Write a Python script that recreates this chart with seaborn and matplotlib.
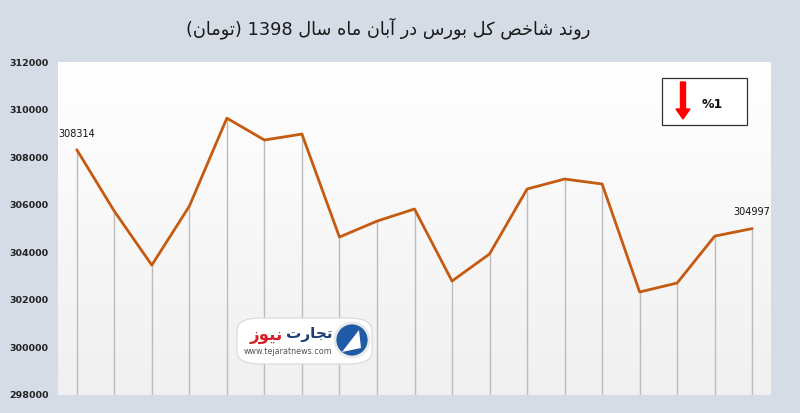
import numpy as np
import pandas as pd
import matplotlib
matplotlib.use("Agg")
import matplotlib.pyplot as plt
import matplotlib.patches as mpatches
import seaborn as sns

# data (19 trading days, Aban 1398)
days = list(range(1, 20))
index_values = [308314, 305730, 303460, 305940, 309640, 308720, 308970,
                304640, 305310, 305820, 302790, 303930, 306660, 307080,
                306870, 302330, 302710, 304680, 304997]
y_ticks = [298000, 300000, 302000, 304000, 306000, 308000, 310000, 312000]
title_text = "روند شاخص کل بورس در آبان ماه سال 1398 (تومان)"
change_text = "%1"

BG = "#d6dce5"
LINE = "#c55a11"

# matplotlib has no arabic shaping, so map letters to presentation forms
FORMS = {  # isolated, final, initial, medial
    'ا': ('\uFE8D', '\uFE8E', None, None),
    'آ': ('\uFE81', '\uFE82', None, None),
    'ب': ('\uFE8F', '\uFE90', '\uFE91', '\uFE92'),
    'ت': ('\uFE95', '\uFE96', '\uFE97', '\uFE98'),
    'ج': ('\uFE9D', '\uFE9E', '\uFE9F', '\uFEA0'),
    'خ': ('\uFEA5', '\uFEA6', '\uFEA7', '\uFEA8'),
    'د': ('\uFEA9', '\uFEAA', None, None),
    'ر': ('\uFEAD', '\uFEAE', None, None),
    'ز': ('\uFEAF', '\uFEB0', None, None),
    'س': ('\uFEB1', '\uFEB2', '\uFEB3', '\uFEB4'),
    'ش': ('\uFEB5', '\uFEB6', '\uFEB7', '\uFEB8'),
    'ص': ('\uFEB9', '\uFEBA', '\uFEBB', '\uFEBC'),
    'ک': ('\uFB8E', '\uFB8F', '\uFB90', '\uFB91'),
    'ل': ('\uFEDD', '\uFEDE', '\uFEDF', '\uFEE0'),
    'م': ('\uFEE1', '\uFEE2', '\uFEE3', '\uFEE4'),
    'ن': ('\uFEE5', '\uFEE6', '\uFEE7', '\uFEE8'),
    'ه': ('\uFEE9', '\uFEEA', '\uFEEB', '\uFEEC'),
    'و': ('\uFEED', '\uFEEE', None, None),
    'ی': ('\uFBFC', '\uFBFD', '\uFBFE', '\uFBFF'),
}


def shape_word(w):
    out = []
    for i, ch in enumerate(w):
        if ch not in FORMS:
            out.append(ch)
            continue
        prev = w[i - 1] if i > 0 else None
        nxt = w[i + 1] if i + 1 < len(w) else None
        iso, fin, ini, med = FORMS[ch]
        joins_prev = prev in FORMS and FORMS[prev][2] is not None
        joins_next = nxt in FORMS and ini is not None
        if joins_prev and joins_next:
            out.append(med)
        elif joins_prev:
            out.append(fin)
        elif joins_next:
            out.append(ini)
        else:
            out.append(iso)
    return ''.join(out)


def rtl(text):
    words = []
    for w in text.split(' '):
        if any(c in FORMS for c in w):
            s = shape_word(w)[::-1].translate(str.maketrans('()', ')('))
            words.append(s)
        else:
            words.append(w)
    return ' '.join(words[::-1])


sns.set_style("white")
plt.rcParams['font.family'] = ['DejaVu Sans']

df = pd.DataFrame({'day': days, 'value': index_values})

fig = plt.figure(figsize=(8, 4.13), dpi=100, facecolor=BG)
ax = fig.add_axes([58 / 800, 18 / 413, 713 / 800, 333 / 413])

ax.set_xlim(0.5, 19.5)
ax.set_ylim(298000, 312000)

# white at the top fading to light grey at the bottom
grad = np.linspace(0, 1, 256).reshape(-1, 1)
ax.imshow(grad, extent=(0.5, 19.5, 298000, 312000), aspect='auto',
          cmap=matplotlib.colors.LinearSegmentedColormap.from_list(
              'g', ['#f0f0f0', '#ffffff']), zorder=0, origin='lower')

# drop lines
ax.vlines(df['day'], 298000, df['value'], color='#bcbcbc', lw=1, zorder=1)
sns.lineplot(data=df, x='day', y='value', ax=ax, color=LINE, lw=2, zorder=3)

for i in (0, len(days) - 1):
    ax.annotate(str(index_values[i]), (days[i], index_values[i]),
                xytext=(0, 8), textcoords='offset points', ha='center',
                va='bottom', fontsize=7, color='#111111')

ax.set_yticks(y_ticks)
ax.set_yticklabels([str(t) for t in y_ticks], fontsize=6.8,
                   fontweight='bold', color='#222222')
ax.set_xticks([])
ax.tick_params(axis='y', length=0, pad=7)
ax.set_xlabel('')
ax.set_ylabel('')
for s in ax.spines.values():
    s.set_visible(False)

# title
fig.text(388 / 800, 1 - 28 / 413, rtl(title_text), ha='center', va='center',
         fontsize=12.8, color='#1a1a1a')

# change box
fig.patches.append(mpatches.Rectangle((662 / 800, 1 - 125 / 413), 85 / 800,
                                      47 / 413, transform=fig.transFigure,
                                      facecolor='white', edgecolor='#333333',
                                      lw=0.9))
fig.patches.append(mpatches.FancyArrow(683 / 800, 1 - 82 / 413, 0, -37 / 413,
                                       width=5 / 800, head_width=14 / 800,
                                       head_length=10 / 413,
                                       length_includes_head=True,
                                       transform=fig.transFigure,
                                       color='#ff0000'))
fig.text(712 / 800, 1 - 104 / 413, change_text, ha='center', va='center',
         fontsize=9, fontweight='bold', color='#111111')

# logo
fig.patches.append(mpatches.FancyBboxPatch((237 / 800, 1 - 364 / 413),
                                           135 / 800, 46 / 413,
                                           boxstyle='round,pad=0,rounding_size=0.03',
                                           transform=fig.transFigure,
                                           facecolor='white',
                                           edgecolor='#d8d8d8', lw=0.8))
fig.patches.append(mpatches.Ellipse((352 / 800, 1 - 340 / 413), 34 / 800,
                                    34 / 413, transform=fig.transFigure,
                                    facecolor='#1f5aa6', edgecolor='#e8e8e8',
                                    lw=2))
fig.patches.append(mpatches.Polygon([(342 / 800, 1 - 352 / 413),
                                     (359 / 800, 1 - 330 / 413),
                                     (361 / 800, 1 - 348 / 413)],
                                    closed=True, transform=fig.transFigure,
                                    facecolor='white', edgecolor='none'))
fig.text(333 / 800, 1 - 334 / 413, rtl("تجارت"), ha='right', va='center',
         fontsize=11, fontweight='bold', color='#1d3f73')
fig.text(283 / 800, 1 - 335 / 413, rtl("نیوز"), ha='right', va='center',
         fontsize=12, fontweight='bold', color='#d62027')
fig.text(288 / 800, 1 - 352 / 413, "www.tejaratnews.com", ha='center',
         va='center', fontsize=5.8, color='#555555')

fig.savefig('out.png', dpi=100, facecolor=BG)
